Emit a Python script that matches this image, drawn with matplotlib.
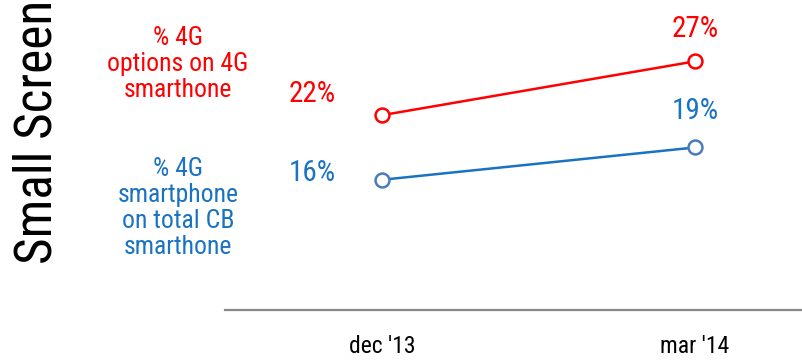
import matplotlib
matplotlib.use("Agg")
import matplotlib.pyplot as plt

plt.rcParams['font.family'] = ['Roboto Condensed', 'DejaVu Sans']

periods = ["dec '13", "mar '14"]
opt_4g = [22, 27]        # % 4G options on 4G smartphone
share_4g = [16, 19]      # % 4G smartphone on total CB smartphone

RED = '#ff0000'
BLUE = '#1a73c2'

fig = plt.figure(figsize=(8.03, 3.6), dpi=100)
ax = fig.add_axes([225 / 803, 50 / 360, 578 / 803, 310 / 360])

x = range(len(periods))
ax.plot(x, opt_4g, color=RED, lw=1.8, marker='o', ms=10,
        mfc='white', mec=RED, mew=1.8)
ax.plot(x, share_4g, color=BLUE, lw=1.8, marker='o', ms=10,
        mfc='white', mec='#4a7cbc', mew=1.8)

# value labels: first point up-left, last point above
for vals, col, dy0, dy1 in [(opt_4g, RED, 15, 23), (share_4g, BLUE, 5, 26)]:
    ax.annotate(f"{vals[0]}%", (0, vals[0]), xytext=(-50, dy0),
                textcoords='offset points', ha='center', va='center',
                fontsize=21, color=col)
    ax.annotate(f"{vals[1]}%", (1, vals[1]), xytext=(0, dy1),
                textcoords='offset points', ha='center', va='center',
                fontsize=21, color=col)

ax.set_xlim(-0.502, 1.345)
ax.set_ylim(3.9, 32.7)
ax.set_xticks(list(x))
ax.set_xticklabels(periods, fontsize=17)
ax.tick_params(axis='x', length=0, pad=18)
ax.set_yticks([])
for side in ['top', 'right', 'left']:
    ax.spines[side].set_visible(False)
ax.spines['bottom'].set_color('#888888')
ax.spines['bottom'].set_linewidth(1.6)

fig.text(178 / 803, 1 - 64 / 360, "% 4G\noptions on 4G\nsmarthone",
         ha='center', va='center', fontsize=18.5, color=RED, linespacing=1.1)
fig.text(178 / 803, 1 - 208 / 360, "% 4G\nsmartphone\non total CB\nsmarthone",
         ha='center', va='center', fontsize=18.5, color=BLUE, linespacing=1.1)
fig.text(38 / 803, 1 - 132 / 360, "Small Screen", rotation=90,
         ha='center', va='center', fontsize=37, color='black')

fig.savefig('out.png', dpi=100)
